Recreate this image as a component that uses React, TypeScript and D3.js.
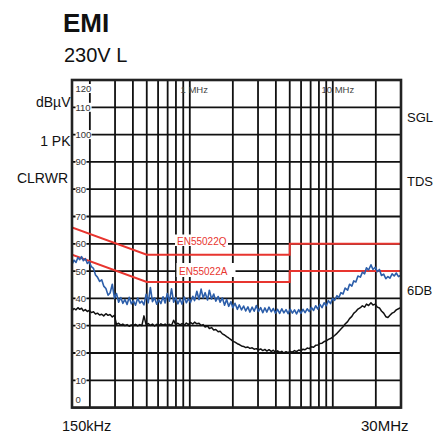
import React from "react";
import * as d3 from "d3";

const freqs = [
  0.150, 0.155, 0.160, 0.165, 0.170, 0.175, 0.180, 0.186, 0.192, 0.198,
  0.205, 0.212, 0.219, 0.226, 0.234, 0.242, 0.250, 0.259, 0.268, 0.277,
  0.287, 0.297, 0.307, 0.318, 0.329, 0.340, 0.352, 0.364, 0.377, 0.390,
  0.403, 0.417, 0.432, 0.447, 0.462, 0.478, 0.495, 0.512, 0.530, 0.548,
  0.567, 0.587, 0.607, 0.628, 0.650, 0.672, 0.696, 0.720, 0.745, 0.771,
  0.797, 0.825, 0.854, 0.883, 0.914, 0.946, 0.978, 1.01, 1.05, 1.08,
  1.12, 1.16, 1.20, 1.24, 1.28, 1.33, 1.37, 1.42, 1.47, 1.52,
  1.58, 1.63, 1.69, 1.75, 1.81, 1.87, 1.94, 2.00, 2.07, 2.15,
  2.22, 2.30, 2.38, 2.46, 2.55, 2.63, 2.73, 2.82, 2.92, 3.02,
  3.13, 3.24, 3.35, 3.46, 3.58, 3.71, 3.84, 3.97, 4.11, 4.25,
  4.40, 4.55, 4.71, 4.87, 5.04, 5.22, 5.40, 5.58, 5.78, 5.98,
  6.19, 6.40, 6.62, 6.85, 7.09, 7.34, 7.59, 7.86, 8.13, 8.41,
  8.70, 9.00, 9.32, 9.64, 9.97, 10.3, 10.7, 11.0, 11.4, 11.8,
  12.2, 12.7, 13.1, 13.6, 14.0, 14.5, 15.0, 15.6, 16.1, 16.7,
  17.2, 17.8, 18.5, 19.1, 19.8, 20.5, 21.2, 21.9, 22.7, 23.5,
  24.3, 25.1, 26.0, 26.9, 27.8, 28.8, 29.8, 30.0,
];

const peakValues = [
  52.5, 54.0, 53.2, 55.0, 54.2, 55.3, 53.8, 54.6, 52.8, 53.4,
  51.6, 51.0, 48.6, 47.8, 46.2, 46.8, 44.5, 43.6, 41.2, 42.0,
  45.2, 40.1, 41.8, 38.6, 40.3, 38.2, 39.6, 37.8, 40.4, 38.0,
  39.2, 37.5, 40.1, 38.3, 39.0, 37.6, 41.5, 38.4, 44.0, 38.8,
  40.2, 37.9, 39.5, 38.1, 40.6, 38.3, 41.8, 39.0, 43.5, 38.6,
  40.3, 38.0, 39.8, 37.9, 40.5, 38.4, 39.9, 38.5, 40.8, 39.2,
  42.6, 39.6, 43.4, 40.2, 42.1, 39.4, 43.0, 39.8, 41.6, 39.0,
  40.7, 38.6, 40.2, 37.5, 39.6, 37.1, 38.8, 36.6, 38.2, 36.0,
  37.6, 35.8, 37.2, 35.4, 36.9, 35.0, 36.8, 35.3, 37.4, 35.2,
  36.6, 34.8, 36.5, 35.0, 36.8, 35.1, 36.3, 34.6, 36.0, 34.5,
  36.2, 34.7, 35.9, 34.4, 36.1, 34.6, 35.8, 34.3, 35.9, 34.5,
  36.0, 34.8, 36.2, 35.2, 36.7, 35.6, 37.3, 36.1, 37.8, 36.6,
  38.4, 37.3, 39.2, 38.1, 40.0, 39.3, 41.0, 40.2, 42.1, 41.6,
  43.8, 43.0, 45.2, 44.5, 46.4, 46.0, 48.2, 47.8, 49.6, 49.0,
  51.2, 50.4, 52.3, 50.6, 51.4, 49.8, 50.6, 48.4, 48.9, 47.2,
  48.0, 47.4, 49.0, 48.2, 49.3, 48.0, 48.4, 47.8,
];

const avgValues = [
  35.5, 36.3, 35.8, 36.6, 36.0, 36.4, 35.4, 35.9, 35.2, 35.6,
  34.8, 35.1, 34.3, 34.6, 33.9, 34.2, 33.6, 34.4, 33.8, 34.1,
  33.2, 33.8, 30.5, 30.9, 30.2, 30.6, 30.0, 30.4, 29.8, 30.3,
  30.1, 30.5, 29.9, 30.4, 30.0, 33.6, 30.3, 30.8, 30.1, 30.6,
  29.9, 30.5, 30.0, 30.7, 30.2, 30.6, 30.0, 30.5, 30.1, 32.0,
  30.4, 30.9, 30.3, 30.8, 30.2, 31.0, 30.4, 31.2, 30.6, 31.3,
  30.7, 30.9, 30.1, 30.4, 29.5, 29.9, 29.0, 29.3, 28.4, 28.6,
  27.8, 28.0, 27.0, 26.6, 26.0, 25.5, 24.9, 24.3, 24.0, 23.4,
  23.1, 22.6, 22.4, 22.0, 22.2, 21.7, 21.9, 21.4, 21.6, 21.1,
  21.5, 20.9, 21.3, 20.7, 21.2, 20.6, 21.0, 20.3, 20.8, 20.2,
  20.6, 20.0, 20.5, 20.1, 20.6, 20.3, 20.9, 20.5, 21.1, 20.8,
  21.4, 21.2, 21.8, 21.6, 22.3, 22.1, 22.8, 22.9, 23.5, 23.6,
  24.2, 24.4, 25.0, 25.3, 25.8, 26.4, 27.2, 27.9, 28.8, 29.6,
  30.6, 31.5, 32.6, 33.4, 34.5, 35.2, 36.1, 36.6, 37.3, 36.8,
  37.9, 37.4, 38.4, 37.6, 37.9, 36.8, 36.5, 35.4, 34.6, 33.3,
  33.0, 33.8, 34.6, 35.0, 35.8, 36.2, 36.6, 36.4,
];

const limitQFreqs = [0.15, 0.5, 5, 5, 30];
const limitQValues = [66, 56, 56, 60, 60];
const limitAFreqs = [0.15, 0.5, 5, 5, 30];
const limitAValues = [56, 46, 46, 50, 50];

const yTicks = [0, 10, 20, 30, 40, 50, 60, 70, 80, 90, 100, 110, 120];
const xGridFreqs = [
  0.2, 0.3, 0.4, 0.5, 0.6, 0.7, 0.8, 0.9, 1, 2, 3, 4, 5, 6, 7, 8, 9, 10, 20,
];

const FONT = "Liberation Sans, Arial, sans-serif";

export default function App() {
  const left = 72;
  const right = 401;
  const top = 80;
  const bottom = 407.6;

  const x = d3.scaleLog().domain([0.15, 30]).range([left, right]);
  const y = d3.scaleLinear().domain([0, 120]).range([bottom, top]);

  const line = d3
    .line<[number, number]>()
    .x((d) => x(d[0]))
    .y((d) => y(d[1]));

  const peakPath = line(freqs.map((f, i) => [f, peakValues[i]]) as [number, number][]);
  const avgPath = line(freqs.map((f, i) => [f, avgValues[i]]) as [number, number][]);
  const qPath = line(limitQFreqs.map((f, i) => [f, limitQValues[i]]) as [number, number][]);
  const aPath = line(limitAFreqs.map((f, i) => [f, limitAValues[i]]) as [number, number][]);

  const red = "#e8352f";

  return (
    <svg
      width={437}
      height={434}
      style={{ position: "absolute", left: 0, top: 0, background: "#fff", fontFamily: FONT }}
    >
      <rect x={0} y={0} width={437} height={434} fill="#fff" />
      <text x={63} y={32} fontSize={26} fontWeight="bold" fill="#111">EMI</text>
      <text x={64} y={62} fontSize={20} fill="#111">230V L</text>

      <clipPath id="plotclip">
        <rect x={left} y={top} width={right - left} height={bottom - top} />
      </clipPath>

      {yTicks.map((t) => (
        <line key={"h" + t} x1={left} x2={right} y1={y(t)} y2={y(t)} stroke="#111" strokeWidth={1.8} />
      ))}
      {xGridFreqs.map((f) => (
        <line key={"v" + f} x1={x(f)} x2={x(f)} y1={top} y2={bottom} stroke="#111" strokeWidth={1.8} />
      ))}

      {yTicks.map((t) => {
        let cy = y(t);
        if (t === 120) cy = top + 8.5;
        if (t === 0) cy = bottom - 8.5;
        const label = String(t);
        const w = label.length * 5.2;
        return (
          <g key={"yl" + t}>
            <rect x={75.5} y={cy - 4.5} width={w + 0.5} height={9} fill="#fff" />
            <text x={75.5} y={cy + 3.4} fontSize={9.5} fill="#333">{label}</text>
          </g>
        );
      })}

      <text x={180.5} y={93} fontSize={9.5} fill="#444">1 MHz</text>
      <text x={321.5} y={93} fontSize={9.5} fill="#444">10 MHz</text>

      <g clipPath="url(#plotclip)">
        <path d={qPath || ""} fill="none" stroke={red} strokeWidth={2} />
        <path d={aPath || ""} fill="none" stroke={red} strokeWidth={2} />
        <path d={avgPath || ""} fill="none" stroke="#111" strokeWidth={1.5} strokeLinejoin="round" />
        <path d={peakPath || ""} fill="none" stroke="#2c5eaa" strokeWidth={1.6} strokeLinejoin="round" />
      </g>

      <rect x={175} y={234.5} width={53} height={11.5} fill="#fff" />
      <text x={177} y={244.5} fontSize={10} fill={red}>EN55022Q</text>
      <rect x={176.5} y={263} width={59} height={14} fill="#fff" />
      <text x={179} y={274.5} fontSize={10} fill={red}>EN55022A</text>

      <rect x={left} y={top} width={right - left} height={bottom - top} fill="none" stroke="#222" strokeWidth={2.6} />

      <text x={70.5} y={107} fontSize={14} fill="#111" textAnchor="end">dBµV</text>
      <text x={70.5} y={146} fontSize={14} fill="#111" textAnchor="end">1 PK</text>
      <text x={68} y={183} fontSize={14} fill="#111" textAnchor="end">CLRWR</text>
      <text x={407} y={122} fontSize={13} fill="#111">SGL</text>
      <text x={407} y={186} fontSize={13} fill="#111">TDS</text>
      <text x={407} y={295} fontSize={13} fill="#111">6DB</text>
      <text x={62} y={431} fontSize={14.5} fill="#111">150kHz</text>
      <text x={408.5} y={431} fontSize={15} fill="#111" textAnchor="end">30MHz</text>
    </svg>
  );
}
